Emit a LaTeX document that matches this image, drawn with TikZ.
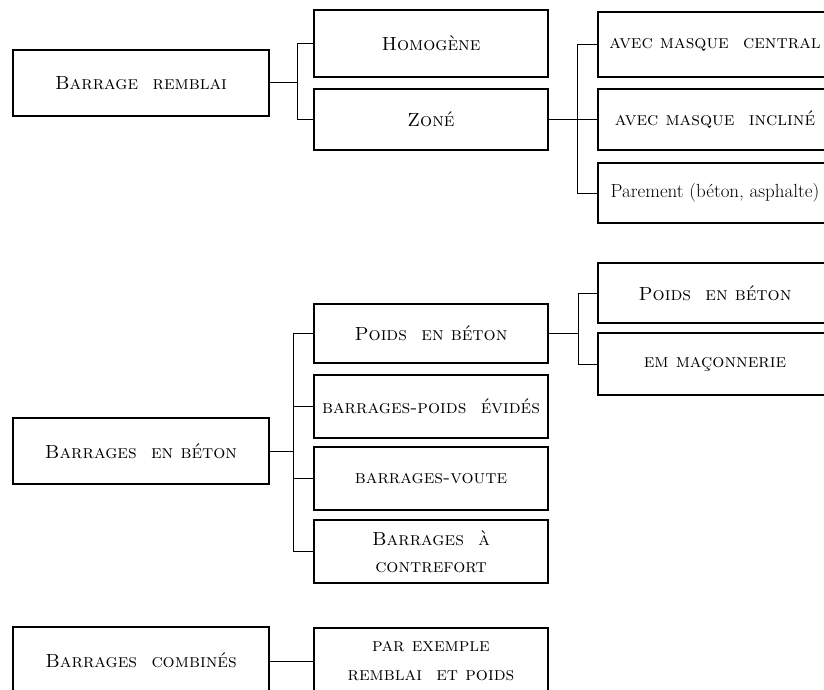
\documentclass[tikz,border=0pt]{standalone}
\usepackage{fontspec}
\usepackage{tikz}
\usetikzlibrary{positioning, calc}
\tikzset{
    mainbox/.style={rectangle, draw, line width=1.5pt, minimum width=256pt, minimum height=66pt, align=center, font=\fontsize{19}{25}\selectfont},
    subbox/.style={rectangle, draw, line width=1.5pt, minimum width=234pt, minimum height=63pt, align=center, font=\fontsize{19}{27}\selectfont},
    link/.style={line width=1pt},
}

\begin{document}
\begin{tikzpicture}[x=1pt, y=1pt]
    \useasboundingbox (0,0) rectangle (824,-690);
    \clip (0,0) rectangle (824,-690);

    % Barrages en remblai
    \node[mainbox] (remblai) at (141,-83) {\textsc{Barrage\ \ remblai}};
    \node[subbox, minimum height=67pt] (homogene) at (431,-43.5) {\textsc{Homogène}};
    \node[subbox, minimum height=61pt] (zone) at (431,-119.5) {\textsc{Zoné}};
    \node[subbox, minimum height=65pt] (central) at (715,-44.5) {\textsc{avec masque\ \ central}};
    \node[subbox, minimum height=61pt] (incline) at (715,-119.5) {\textsc{avec masque\ \ incliné}};
    \node[subbox, minimum height=60pt] (parement) at (715,-193) {Parement\ (béton,\ asphalte)};

    % Barrages en beton
    \node[mainbox] (beton) at (141,-451) {\textsc{Barrages\ \ en béton}};
    \node[subbox, minimum height=59pt] (poids) at (431,-333.5) {\textsc{Poids\ \ en béton}};
    \node[subbox] (evides) at (431,-406.5) {\textsc{barrages-poids\ \ évidés}};
    \node[subbox] (voute) at (431,-478.5) {\textsc{barrages-voute}};
    \node[subbox] (contrefort) at (431,-551.5) {\textsc{Barrages\ \ à}\\\textsc{contrefort}};
    \node[subbox, minimum height=60pt] (poidsb) at (715,-293) {\textsc{Poids\ \ en béton}};
    \node[subbox, minimum height=62pt] (maconnerie) at (715,-364) {\textsc{em maçonnerie}};

    % Barrages combines
    \node[mainbox] (combines) at (141,-660) {\textsc{Barrages\ \ combinés}};
    \node[subbox, minimum height=66pt, font=\fontsize{19}{29}\selectfont] (exemple) at (431,-661) {\textsc{par exemple}\\\textsc{remblai\ \ et poids}};

    % Connectors
    \draw[link] (remblai.east) -- ++(28,0) coordinate (j1);
    \draw[link] (homogene.west) -| (j1) |- (zone.west);
    \draw[link] (zone.east) -- (incline.west);
    \coordinate (j2) at ($(zone.east)+(29,0)$);
    \draw[link] (central.west) -| (j2) |- (parement.west);

    \draw[link] (beton.east) -- ++(24,0) coordinate (j3);
    \draw[link] (poids.west) -| (j3) |- (contrefort.west);
    \draw[link] (j3 |- evides.west) -- (evides.west);
    \draw[link] (j3 |- voute.west) -- (voute.west);
    \draw[link] (poids.east) -- ++(30,0) coordinate (j4);
    \draw[link] (poidsb.west) -| (j4) |- (maconnerie.west);

    \draw[link] (combines.east |- exemple.west) -- (exemple.west);
\end{tikzpicture}
\end{document}
